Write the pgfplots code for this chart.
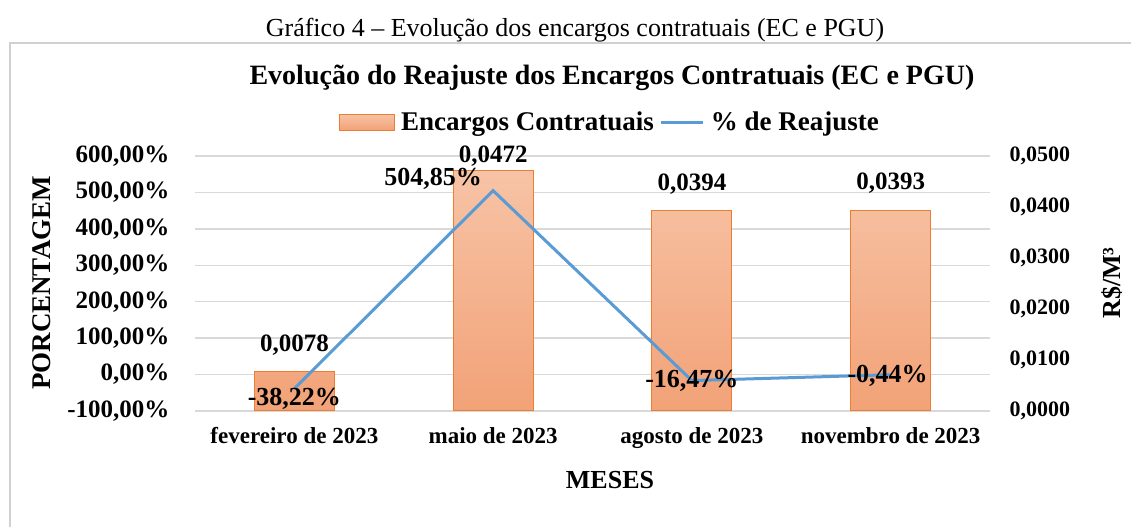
\documentclass[border=0pt]{standalone}
\usepackage{pgfplots}
\pgfplotsset{compat=1.18}
\usepackage{pgfplotstable}
\usepackage{fontspec}
\setmainfont{Liberation Serif}

\definecolor{barTop}{HTML}{F7C3A6}
\definecolor{barBot}{HTML}{F2A277}
\definecolor{barEdge}{HTML}{ED7D31}
\definecolor{lineBlue}{HTML}{5B9BD5}
\definecolor{gridGray}{HTML}{D9D9D9}
\definecolor{frameGray}{HTML}{D0D0D0}

% R$/m3 per quarter, with label and label offset (pt)
\pgfplotstableread{
x  y       lab     dy
0  0.0078  0,0078  26
1  0.0472  0,0472  14
2  0.0394  0,0394  26
3  0.0393  0,0393  27
}\bars

% % de reajuste
\pgfplotstableread{
x  y       lab        dx   dy
0  -38.22  -38,22\%   0    -10
1  504.85  504,85\%   -60  12
2  -16.47  -16,47\%   0    0
3  -0.44   -0,44\%    -3   -1
}\reaj

\newcommand{\bfs}[1]{\fontsize{#1}{#1}\selectfont\bfseries}

\begin{document}
\begin{tikzpicture}[x=1pt,y=1pt]
\path[use as bounding box] (0,0) rectangle (1131,527);
\draw[frameGray, line width=1.5pt] (10,0) -- (10,484) -- (1131,484);

\node[font=\fontsize{26}{26}\selectfont] at (575,497) {Gráfico 4 -- Evolução dos encargos contratuais (EC e PGU)};
\node[font=\bfs{28}] at (612,449) {Evolução do Reajuste dos Encargos Contratuais (EC e PGU)};

% bars, right axis
\begin{axis}[
    scale only axis, width=795pt, height=255pt,
    at={(195pt,116pt)}, anchor=south west,
    xmin=-0.5, xmax=3.5, ymin=0, ymax=0.05,
    axis y line*=right, axis x line=none,
    axis line style={draw=none},
    major tick length=0pt,
    scaled y ticks=false,
    ytick={0,0.01,0.02,0.03,0.04,0.05},
    yticklabels={{0,0000},{0,0100},{0,0200},{0,0300},{0,0400},{0,0500}},
    yticklabel style={font=\bfs{22}, xshift=16pt},
    extra y ticks={0,0.0071429,0.0142857,0.0214286,0.0285714,0.0357143,0.0428571,0.05},
    extra y tick labels={},
    extra y tick style={grid=major, major grid style={draw=gridGray, line width=1.3pt}},
]
\addplot[ybar, bar width=80pt, draw=barEdge, line width=1pt,
    top color=barTop, bottom color=barBot,
    point meta=explicit symbolic, nodes near coords,
    visualization depends on={\thisrow{dy}\as\lbldy},
    every node near coord/.append style={font=\bfs{25}, text=black, anchor=center, yshift=\lbldy pt}]
    table[x=x, y=y, meta=lab] {\bars};
\end{axis}

% line, left axis
\begin{axis}[
    scale only axis, width=795pt, height=255pt,
    at={(195pt,116pt)}, anchor=south west,
    xmin=-0.5, xmax=3.5, ymin=-100, ymax=600,
    axis y line*=left, axis x line*=bottom,
    axis line style={draw=none},
    major tick length=0pt,
    ytick={-100,0,100,200,300,400,500,600},
    yticklabels={{-100,00\%},{0,00\%},{100,00\%},{200,00\%},{300,00\%},{400,00\%},{500,00\%},{600,00\%}},
    yticklabel style={font=\bfs{25}, xshift=-22pt},
    xtick={0,1,2,3},
    xticklabels={fevereiro de 2023, maio de 2023, agosto de 2023, novembro de 2023},
    xticklabel style={font=\bfs{23}, yshift=-13pt},
    legend columns=2,
    legend style={at={(0.522,1.133)}, anchor=center, draw=none, fill=none,
        font=\bfs{27}, column sep=4pt},
]
\addlegendimage{legend image code/.code={
    \draw[draw=barEdge, line width=1pt, top color=barTop, bottom color=barBot] (0pt,-8pt) rectangle (55pt,8pt);}}
\addlegendentry{Encargos Contratuais}
\addplot[lineBlue, line width=3pt, mark=none,
    legend image code/.code={\draw[lineBlue, line width=3pt] (0pt,0pt) -- (42pt,0pt);},
    point meta=explicit symbolic, nodes near coords,
    visualization depends on={\thisrow{dx}\as\lbldx},
    visualization depends on={\thisrow{dy}\as\lbldy},
    every node near coord/.append style={font=\bfs{26}, text=black, anchor=center, xshift=\lbldx pt, yshift=\lbldy pt}]
    table[x=x, y=y, meta=lab] {\reaj};
\addlegendentry{\% de Reajuste}
\end{axis}

\node[font=\bfs{27}, rotate=90] at (42,244) {PORCENTAGEM};
\node[font=\bfs{26}, rotate=90] at (1112,244) {R\$/M³};
\node[font=\bfs{26}] at (610,47) {MESES};
\end{tikzpicture}
\end{document}
